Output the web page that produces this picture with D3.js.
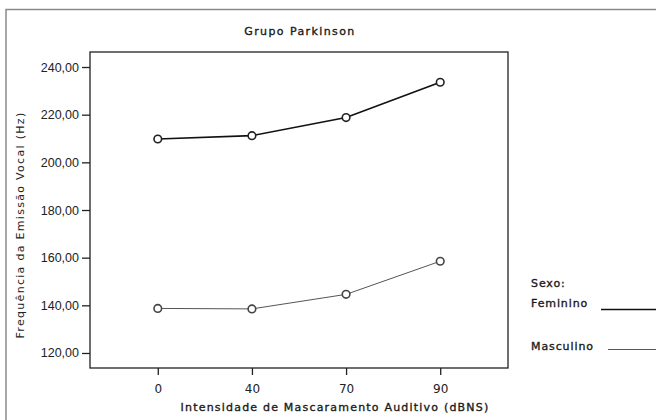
<!DOCTYPE html>
<html>
<head>
<meta charset="utf-8">
<script src="https://cdn.jsdelivr.net/npm/d3@7"></script>
<style>
  html, body { margin: 0; padding: 0; background: #fff; }
  svg { display: block; }
</style>
</head>
<body>
<svg id="chart" width="656" height="420"></svg>
<script>
// Masking intensity levels (dBNS)
const intensities = ["0", "40", "70", "90"];
// Mean vocal frequency (Hz) per sex
const feminino = [209.8, 211.2, 218.8, 233.6];
const masculino = [138.7, 138.5, 144.6, 158.5];
const yTicks = [120, 140, 160, 180, 200, 220, 240];

const svg = d3.select("#chart");
const W = 656, H = 420;
const frame = { left: 90, right: 508, top: 52, bottom: 368 };
const sans = "DejaVu Sans, Verdana, sans-serif";

// heavier-than-regular label text
function label(sel, size, spacing) {
  return sel.attr("font-family", sans)
    .attr("font-size", size)
    .attr("letter-spacing", spacing)
    .attr("fill", "#1a1a1a")
    .attr("stroke", "#1a1a1a")
    .attr("stroke-width", 0.35);
}

// outer panel border
svg.append("rect")
  .attr("x", 6).attr("y", 9.5)
  .attr("width", W + 10).attr("height", H + 10)
  .attr("fill", "none").attr("stroke", "#8a8a8a").attr("stroke-width", 1.5);

// title
label(svg.append("text"), 11, 1.4)
  .attr("x", 300).attr("y", 35)
  .attr("text-anchor", "middle")
  .text("Grupo Parkinson");

const x = d3.scalePoint()
  .domain(intensities)
  .range([frame.left, frame.right])
  .padding(0.72);

const y = d3.scaleLinear()
  .domain([113.7, 246.3])
  .range([frame.bottom, frame.top]);

// plot frame
svg.append("rect")
  .attr("x", frame.left).attr("y", frame.top)
  .attr("width", frame.right - frame.left)
  .attr("height", frame.bottom - frame.top)
  .attr("fill", "none").attr("stroke", "#222").attr("stroke-width", 1.3);

// y axis
const yAxis = svg.append("g")
  .attr("transform", `translate(${frame.left},0)`)
  .call(d3.axisLeft(y).tickValues(yTicks).tickSize(8).tickPadding(3)
    .tickFormat(d => d3.format(".2f")(d).replace(".", ",")));
yAxis.select(".domain").remove();
yAxis.selectAll(".tick line").attr("stroke", "#222").attr("stroke-width", 1.3);
yAxis.selectAll(".tick text")
  .attr("font-family", "Liberation Sans, Arial, sans-serif")
  .attr("font-size", 12.5).attr("fill", "#222");

// x axis
const xAxis = svg.append("g")
  .attr("transform", `translate(0,${frame.bottom})`)
  .call(d3.axisBottom(x).tickSize(7).tickPadding(9));
xAxis.select(".domain").remove();
xAxis.selectAll(".tick line").attr("stroke", "#222").attr("stroke-width", 1.3);
xAxis.selectAll(".tick text")
  .attr("font-family", sans)
  .attr("font-size", 12).attr("fill", "#222");

// axis titles
label(svg.append("text"), 11, 1.2)
  .attr("x", 335).attr("y", 411)
  .attr("text-anchor", "middle")
  .text("Intensidade de Mascaramento Auditivo (dBNS)");

svg.append("text")
  .attr("transform", "translate(24,225) rotate(-90)")
  .attr("text-anchor", "middle")
  .attr("font-family", sans)
  .attr("font-size", 11)
  .attr("letter-spacing", 1.3)
  .attr("fill", "#222")
  .text("Frequência da Emissão Vocal (Hz)");

// series
const series = [
  { name: "Feminino", values: feminino, color: "#111", width: 1.7, marker: "#222" },
  { name: "Masculino", values: masculino, color: "#555", width: 1.0, marker: "#444" }
];

const line = d3.line()
  .x((d, i) => x(intensities[i]))
  .y(d => y(d));

series.forEach(s => {
  svg.append("path")
    .datum(s.values)
    .attr("d", line)
    .attr("fill", "none")
    .attr("stroke", s.color)
    .attr("stroke-width", s.width);
  svg.selectAll(null)
    .data(s.values)
    .enter().append("circle")
    .attr("cx", (d, i) => x(intensities[i]))
    .attr("cy", d => y(d))
    .attr("r", 3.8)
    .attr("fill", "#fff")
    .attr("stroke", s.marker)
    .attr("stroke-width", 1.6);
});

// legend
label(svg.append("text"), 11, 0.9)
  .attr("x", 531).attr("y", 287)
  .text("Sexo:");

const legendRows = [
  { s: series[0], ty: 307, ly: 309.5, x1: 601 },
  { s: series[1], ty: 350, ly: 349.5, x1: 608 }
];
legendRows.forEach(r => {
  label(svg.append("text"), 11, 0.9)
    .attr("x", 531).attr("y", r.ty)
    .text(r.s.name);
  svg.append("line")
    .attr("x1", r.x1).attr("x2", W)
    .attr("y1", r.ly).attr("y2", r.ly)
    .attr("stroke", r.s.color).attr("stroke-width", r.s.width);
});
</script>
</body>
</html>
